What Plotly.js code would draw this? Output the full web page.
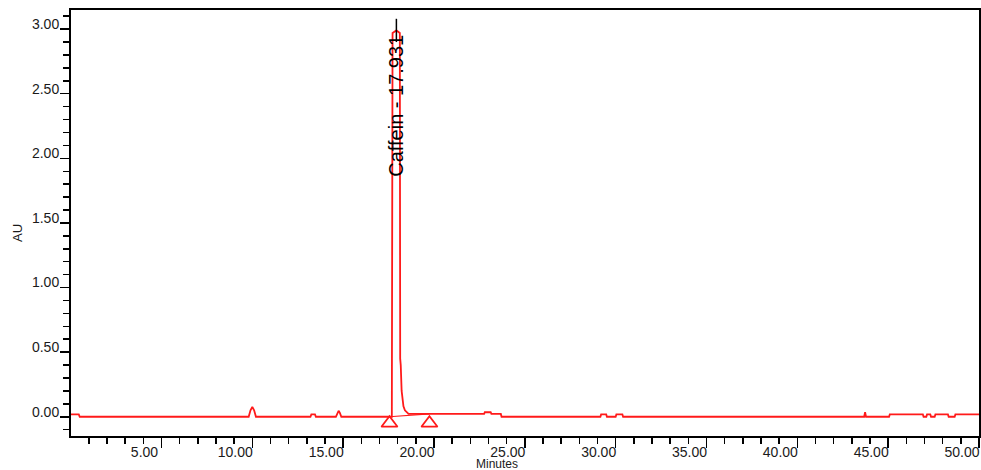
<!DOCTYPE html>
<html>
<head>
<meta charset="utf-8">
<script src="https://cdn.plot.ly/plotly-3.0.1.min.js"></script>
<style>html,body{margin:0;padding:0;background:#fff;}#chart{width:981px;height:470px;}</style>
</head>
<body>
<div id="chart"></div>
<script>
// Chromatogram trace (minutes, AU)
const timeMin = [0.0, 0.45, 0.5, 9.8, 9.9, 10.0, 10.1, 10.2, 13.2, 13.25, 13.45, 13.5,
  14.6, 14.68, 14.75, 14.82, 14.9, 17.68, 17.72, 17.93, 18.12, 18.14, 18.17, 18.22,
  18.28, 18.32, 18.4, 18.5, 18.6, 22.76, 22.8, 23.12, 23.16, 23.68, 23.72, 29.16, 29.2,
  29.48, 29.52, 30.0, 30.04, 30.37, 30.41, 43.68, 43.73, 43.78, 45.05, 45.09, 46.91,
  46.95, 47.1, 47.14, 47.32, 47.36, 47.56, 47.6, 48.29, 48.33, 48.66, 48.7, 50.0];
const absorbance = [0.018, 0.018, 0.0, 0.0, 0.05, 0.077, 0.05, 0.0, 0.0, 0.018, 0.018, 0.0,
  0.0, 0.03, 0.046, 0.03, 0.0, 0.0, 2.97, 2.99, 2.97, 0.45, 0.40, 0.20,
  0.12, 0.08, 0.05, 0.035, 0.022, 0.022, 0.035, 0.035, 0.022, 0.022, 0.0, 0.0, 0.018,
  0.018, 0.0, 0.0, 0.018, 0.018, 0.0, 0.0, 0.035, 0.0, 0.0, 0.018, 0.018,
  0.0, 0.0, 0.018, 0.018, 0.0, 0.0, 0.018, 0.018, 0.0, 0.0, 0.018, 0.018];

// Integration baseline and peak start/end markers
const peakBoundsTime = [17.55, 19.75];
const peakBoundsBase = [0.0, 0.022];
const markerLevel = [-0.05, -0.05];

// Peak label
const peakName = "Caffein";
const peakRT = 17.931;
const peakTickY = [2.9, 3.08];
const peakLabelY = 2.41;

// Axis ticks
const xTickStep = 5;
const yTickStep = 0.5;

const red = '#ff1a1a';
const fam = 'Liberation Sans, Arial, sans-serif';
const tickFont = {family: fam, size: 14, color: '#1a1a1a'};

const traces = [
  {x: timeMin, y: absorbance, type: 'scatter', mode: 'lines',
   line: {color: red, width: 1.8}, hoverinfo: 'skip'},
  {x: peakBoundsTime, y: peakBoundsBase, type: 'scatter', mode: 'lines',
   line: {color: red, width: 1.2}, hoverinfo: 'skip'},
  {x: peakBoundsTime, y: markerLevel, type: 'scatter', mode: 'markers',
   marker: {symbol: 'triangle-up-open', size: 14, color: red, line: {width: 1.8, color: red}},
   hoverinfo: 'skip'},
  {x: [peakRT, peakRT], y: peakTickY, type: 'scatter', mode: 'lines',
   line: {color: '#000', width: 1.5}, hoverinfo: 'skip'}
];

const L = 71, R = 2, T = 10, B = 34, W = 981, H = 470;
const pw = W - L - R, ph = H - T - B;
const px2x = px => (px - L) / pw;
const py2y = py => (H - B - py) / ph;

const layout = {
  width: W, height: H,
  margin: {l: L, r: R, t: T, b: B},
  paper_bgcolor: '#fff', plot_bgcolor: '#fff',
  showlegend: false,
  xaxis: {
    range: [0.02, 50.0], tick0: 0, dtick: xTickStep, tickformat: '.2f',
    showgrid: false, zeroline: false,
    showline: true, mirror: true, linecolor: '#000', linewidth: 2,
    ticks: 'outside', ticklen: 10, tickwidth: 1.5, tickcolor: '#000',
    minor: {dtick: 1, ticks: 'outside', ticklen: 6, tickwidth: 1.5, tickcolor: '#000', showgrid: false},
    tickfont: tickFont, ticklabelshift: -17, ticklabelstandoff: -8
  },
  yaxis: {
    range: [-0.149, 3.148], tick0: 0, dtick: yTickStep, tickformat: '.2f',
    showgrid: false, zeroline: false,
    showline: true, mirror: true, linecolor: '#000', linewidth: 2,
    ticks: 'outside', ticklen: 9, tickwidth: 1.5, tickcolor: '#000',
    minor: {dtick: 0.1, ticks: 'outside', ticklen: 6, tickwidth: 1.5, tickcolor: '#000', showgrid: false},
    tickfont: tickFont, ticklabelshift: -5, ticklabelstandoff: -2
  },
  annotations: [
    {text: peakName + ' - ' + peakRT.toFixed(3), x: peakRT, y: peakLabelY, xref: 'x', yref: 'y',
     showarrow: false, textangle: -90, xanchor: 'center', yanchor: 'middle',
     font: {family: fam, size: 20, color: '#000'}},
    {text: 'Minutes', x: px2x(497), y: py2y(464), xref: 'paper', yref: 'paper', showarrow: false,
     xanchor: 'center', yanchor: 'middle',
     font: {family: fam, size: 12, color: '#1a1a1a'}},
    {text: 'AU', x: px2x(17), y: py2y(233), xref: 'paper', yref: 'paper', showarrow: false,
     textangle: -90, xanchor: 'center', yanchor: 'middle',
     font: {family: fam, size: 13, color: '#1a1a1a'}}
  ]
};

Plotly.newPlot('chart', traces, layout, {staticPlot: true, displayModeBar: false});
</script>
</body>
</html>
